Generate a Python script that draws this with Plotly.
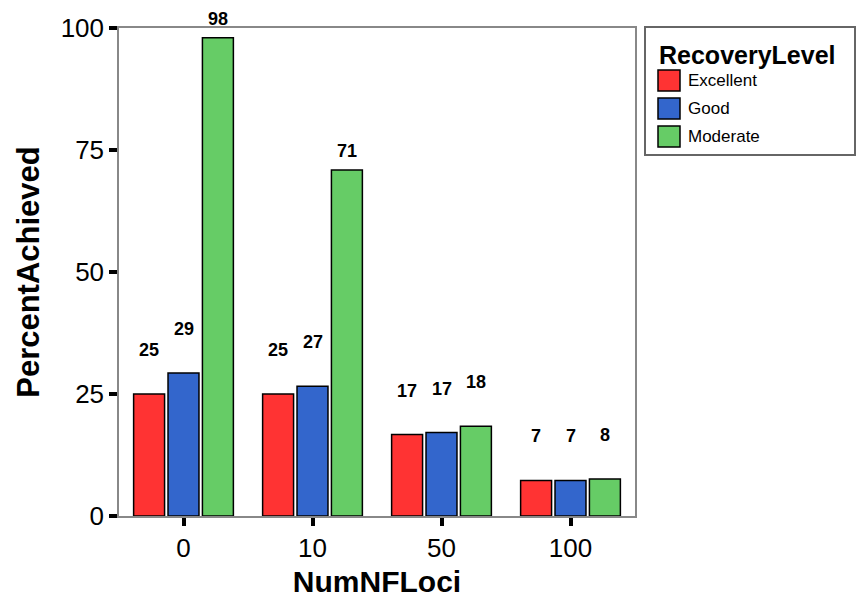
import plotly.graph_objects as go

categories = ["0", "10", "50", "100"]
series_names = ["Excellent", "Good", "Moderate"]
excellent = [25.0, 25.0, 16.7, 7.3]
good = [29.3, 26.6, 17.1, 7.3]
moderate = [98.0, 70.9, 18.4, 7.6]
colors = ["#FF3333", "#3366CC", "#66CC66"]
y_ticks = [0, 25, 50, 75, 100]
legend_title = "RecoveryLevel"

series = [excellent, good, moderate]
FONT = "Liberation Sans, Arial, sans-serif"

# plot area in pixels (for placing the legend box in paper coords)
L, R, T, B = 119, 635, 28, 516
PW, PH = R - L, B - T


def px(X):
    return (X - L) / PW


def py(Y):
    return (B - Y) / PH


fig = go.Figure()
xs = list(range(len(categories)))
for name, vals, col in zip(series_names, series, colors):
    fig.add_trace(go.Bar(
        x=xs, y=vals, name=name, showlegend=False,
        marker=dict(color=col, line=dict(color="black", width=1.5)),
    ))

bargap = 0.2
groupgap = 0.1
slot = (1 - bargap) / len(series)
annotations = []
for j, vals in enumerate(series):
    for i, v in enumerate(vals):
        xpos = i + (j - (len(series) - 1) / 2) * slot
        annotations.append(dict(
            x=xpos, y=v, xref="x", yref="y", text=f"{round(v):d}",
            showarrow=False, yanchor="middle",
            yshift=19 if v > 50 else 44,
            font=dict(family=FONT, size=18, color="black", weight="bold"),
        ))

# legend (box, title, swatches, labels)
shapes = [dict(type="rect", xref="paper", yref="paper",
               x0=px(645), x1=px(855), y0=py(155), y1=py(27),
               line=dict(color="#666666", width=2), fillcolor="rgba(0,0,0,0)")]
annotations.append(dict(
    x=px(657), y=py(55), xref="paper", yref="paper", text=legend_title,
    showarrow=False, xanchor="left", yanchor="middle",
    font=dict(family=FONT, size=25, color="black", weight="bold"),
))
for k, (name, col) in enumerate(zip(series_names, colors)):
    cy = 80.5 + k * 28
    shapes.append(dict(type="rect", xref="paper", yref="paper",
                       x0=px(658), x1=px(680), y0=py(cy + 10.5), y1=py(cy - 10.5),
                       line=dict(color="black", width=1.5), fillcolor=col))
    annotations.append(dict(
        x=px(686), y=py(cy), xref="paper", yref="paper", text=name,
        showarrow=False, xanchor="left", yanchor="middle",
        font=dict(family=FONT, size=17, color="black"),
    ))

fig.update_layout(
    width=856, height=598,
    margin=dict(l=L, r=856 - R, t=T, b=598 - B, autoexpand=False),
    paper_bgcolor="white", plot_bgcolor="white",
    barmode="group", bargap=bargap, bargroupgap=groupgap,
    annotations=annotations, shapes=shapes,
    showlegend=False,
)
fig.update_xaxes(
    range=[-0.5, len(categories) - 0.5],
    tickmode="array", tickvals=xs, ticktext=categories,
    ticks="outside", ticklen=8, tickwidth=4, tickcolor="black",
    showline=True, linecolor="#888888", linewidth=1.5, mirror=True,
    showgrid=False, zeroline=False,
    tickfont=dict(family=FONT, size=26, color="black"),
    title=dict(text="NumNFLoci", font=dict(family=FONT, size=30, color="black", weight="bold"), standoff=10),
)
fig.update_yaxes(
    range=[0, 100], tickmode="array", tickvals=y_ticks,
    ticks="outside", ticklen=8, tickwidth=4, tickcolor="black",
    showline=True, linecolor="#888888", linewidth=1.5, mirror=True,
    showgrid=False, zeroline=False,
    tickfont=dict(family=FONT, size=26, color="black"),
    title=dict(text="PercentAchieved", font=dict(family=FONT, size=31, color="black", weight="bold"), standoff=12),
)

fig.write_html("out.html")
